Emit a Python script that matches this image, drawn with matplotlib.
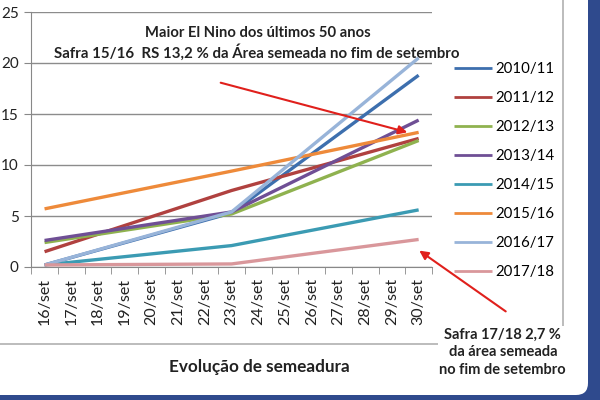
import matplotlib.pyplot as plt
from matplotlib.patches import FancyBboxPatch, FancyArrowPatch
from matplotlib.transforms import IdentityTransform

plt.rcParams['font.family'] = ['Lato', 'DejaVu Sans']

dias = ['16/set', '17/set', '18/set', '19/set', '20/set', '21/set', '22/set', '23/set',
        '24/set', '25/set', '26/set', '27/set', '28/set', '29/set', '30/set']
dias_lidos = ['16/set', '23/set', '30/set']

safras = ['2010/11', '2011/12', '2012/13', '2013/14', '2014/15', '2015/16', '2016/17', '2017/18']
s2010 = [0.2, 5.3, 18.8]
s2011 = [1.5, 7.5, 12.6]
s2012 = [2.4, 5.2, 12.4]
s2013 = [2.6, 5.4, 14.4]
s2014 = [0.2, 2.1, 5.6]
s2015 = [5.7, 9.4, 13.2]
s2016 = [0.2, 5.4, 20.5]
s2017 = [0.2, 0.3, 2.7]
valores = [s2010, s2011, s2012, s2013, s2014, s2015, s2016, s2017]

cores = ['#3d6fae', '#b0413f', '#8fb24f', '#6f4f95', '#3b9bb3', '#ee8a3a', '#98b4d9', '#d9979b']

fig = plt.figure(figsize=(6, 4), dpi=100)
fig.patch.set_facecolor('#2f4a8d')
# area branca do slide, moldura azul a direita e embaixo
fig.patches.append(FancyBboxPatch((-40, 5), 628, 430, boxstyle='round,pad=0,rounding_size=12',
                                  transform=IdentityTransform(), facecolor='white',
                                  edgecolor='none', zorder=-5))

ax = fig.add_axes([0.052, 0.3325, 0.668, 0.6375])
ax.set_facecolor('none')
xs = [dias.index(d) for d in dias_lidos]
for nome, v, c in zip(safras, valores, cores):
    ax.plot(xs, v, color=c, lw=2.4, label=nome, solid_capstyle='butt')

ax.set_ylim(0, 25)
ax.set_xlim(-0.5, len(dias) - 0.5)
ax.set_yticks(range(0, 26, 5))
ax.set_xticks(range(len(dias)))
ax.set_xticklabels(dias, rotation=90, fontsize=11.5, color='#222222')
ax.set_xticks([i - 0.5 for i in range(len(dias) + 1)], minor=True)
ax.tick_params(axis='x', which='major', length=0, pad=8)
ax.tick_params(axis='x', which='minor', length=5, color='#888888')
ax.tick_params(axis='y', length=5, color='#888888', labelsize=11, labelcolor='#222222', pad=4)
ax.grid(axis='y', color='#8c8c8c', lw=1)
ax.set_axisbelow(True)
for s in ['top', 'right']:
    ax.spines[s].set_visible(False)
for s in ['left', 'bottom']:
    ax.spines[s].set_color('#888888')

fig.legend(loc='upper left', bbox_to_anchor=(0.757, 0.845), frameon=False, fontsize=10.8,
           handlelength=2.5, handletextpad=0.25, labelspacing=1.0,
           borderpad=0, borderaxespad=0)
for ln in fig.legends[0].get_lines():
    ln.set_linewidth(2)

# linhas da moldura do grafico
fig.add_artist(plt.Line2D([0, 563 / 600], [1 - 344 / 400] * 2, color='#b0b0b0', lw=1.2))
fig.add_artist(plt.Line2D([563 / 600] * 2, [1 - 344 / 400, 1], color='#b0b0b0', lw=1.2))

fig.text(0.43, 1 - 33 / 400, 'Maior El Nino dos últimos 50 anos', ha='center', va='center',
         fontsize=10.6, fontweight='bold', color='#222222')
fig.text(0.428, 1 - 52 / 400, 'Safra 15/16  RS 13,2 % da Área semeada no fim de setembro',
         ha='center', va='center', fontsize=10.8, fontweight='bold', color='#222222')
fig.text(0.433, 1 - 367 / 400, 'Evolução de semeadura', ha='center', va='center',
         fontsize=12.3, fontweight='bold', color='#222222')
fig.text(0.838, 1 - 352 / 400, 'Safra 17/18 2,7 %\nda área semeada\nno fim de setembro',
         ha='center', va='center', fontsize=10.5, fontweight='bold', color='#222222',
         linespacing=1.32, bbox=dict(facecolor='white', edgecolor='none', pad=1))

seta = dict(arrowstyle='-|>', color='#e0201c', lw=1.5, mutation_scale=13)
fig.add_artist(FancyArrowPatch((218 / 600, 1 - 82 / 400), (410 / 600, 1 - 133 / 400),
                               transform=fig.transFigure, **seta))
fig.add_artist(FancyArrowPatch((508 / 600, 1 - 313 / 400), (417 / 600, 1 - 249 / 400),
                               transform=fig.transFigure, **seta))

fig.savefig('out.png', dpi=100)
